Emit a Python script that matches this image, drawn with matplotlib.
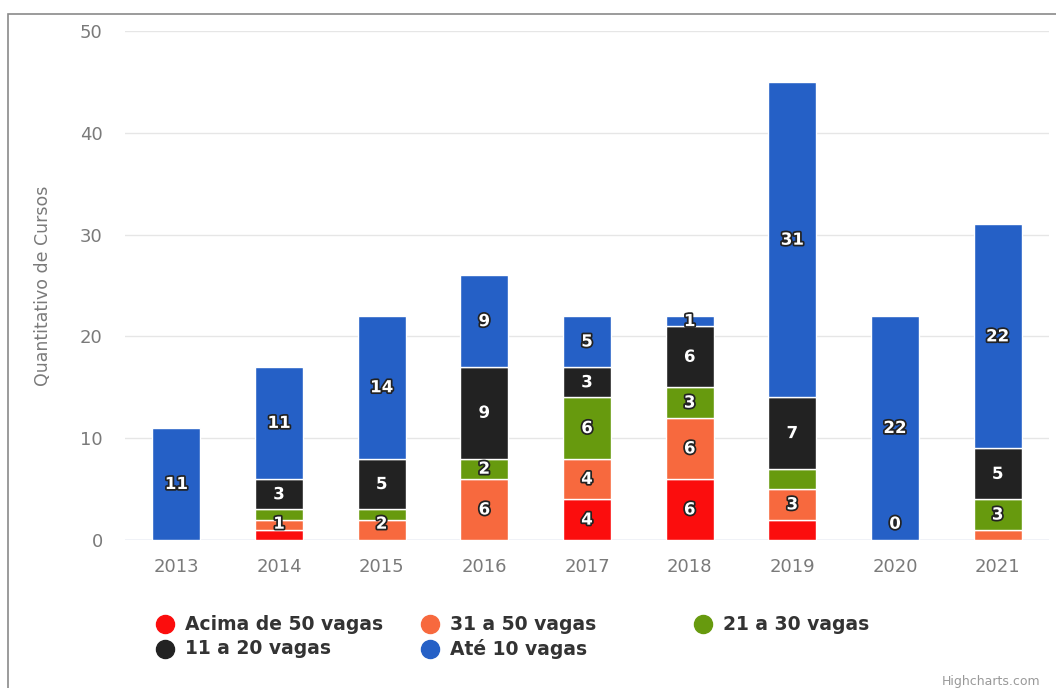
import matplotlib
matplotlib.use("Agg")
import matplotlib.pyplot as plt
import matplotlib.patheffects as pe
from matplotlib.patches import Rectangle
from matplotlib.lines import Line2D
import numpy as np

years = ["2013", "2014", "2015", "2016", "2017", "2018", "2019", "2020", "2021"]
series_names = ["Acima de 50 vagas", "31 a 50 vagas", "21 a 30 vagas", "11 a 20 vagas", "Até 10 vagas"]
acima_50 = [0, 1, 0, 0, 4, 6, 2, 0, 0]
de_31_50 = [0, 1, 2, 6, 4, 6, 3, 0, 1]
de_21_30 = [0, 1, 1, 2, 6, 3, 2, 0, 3]
de_11_20 = [0, 3, 5, 9, 3, 6, 7, 0, 5]
ate_10 = [11, 11, 14, 9, 5, 1, 31, 22, 22]
y_ticks = [0, 10, 20, 30, 40, 50]
y_label = "Quantitativo de Cursos"
credit = "Highcharts.com"

# which labels are shown (hidden ones overlapped in the original)
hidden = {(1, 0), (1, 2), (2, 2), (6, 0), (6, 2), (8, 1)}
shown_zero = {(7, 3)}

colors = ["#fb0d0d", "#f7693e", "#679a0e", "#222222", "#2560c6"]
series = [acima_50, de_31_50, de_21_30, de_11_20, ate_10]

W, H = 1056, 688
fig = plt.figure(figsize=(W / 100, H / 100), dpi=100)
fig.patch.set_facecolor("white")
fig.add_artist(Rectangle((8 / W, -0.2), 1.2, 1.2 - 14 / H, transform=fig.transFigure,
                         fill=False, edgecolor="#8a8a8a", linewidth=1.2))

ax = fig.add_axes([125 / W, 1 - 540 / H, (1049 - 125) / W, (540 - 31) / H])
x = np.arange(len(years))
bottom = np.zeros(len(years))
for si, (vals, col) in enumerate(zip(series, colors)):
    vals = np.array(vals, dtype=float)
    ax.bar(x, vals, width=0.47, bottom=bottom, color=col, edgecolor="white",
           linewidth=1.0, zorder=3)
    for i, v in enumerate(vals):
        show = (v > 0 and (i, si) not in hidden) or (i, si) in shown_zero
        if show:
            yc = bottom[i] + v / 2
            yc = max(yc, 1.6)
            ax.text(x[i], yc, f"{int(v)}", ha="center", va="center",
                    color="white", fontsize=12, fontweight="bold", zorder=5,
                    path_effects=[pe.withStroke(linewidth=2.5, foreground="#222222")])
    bottom += vals

ax.set_xlim(-0.5, len(years) - 0.5)
ax.set_ylim(0, 50)
ax.set_yticks(y_ticks)
ax.set_xticks(x)
ax.set_xticklabels(years)
ax.tick_params(axis="both", length=0, labelsize=13, colors="#7a7a7a")
ax.tick_params(axis="x", pad=13)
ax.tick_params(axis="y", pad=16)
ax.grid(axis="y", color="#e6e6e6", linewidth=1, zorder=0)
for s in ax.spines.values():
    s.set_visible(False)
ax.axhline(0, color="#ccd6eb", linewidth=1, zorder=2)
ax.set_ylabel(y_label, fontsize=12.5, color="#7a7a7a", labelpad=20)

# legend
legend_pos = [(165, 624), (430, 624), (703, 624), (165, 649), (430, 649)]
for (px, py), name, col in zip(legend_pos, series_names, colors):
    fig.add_artist(Line2D([px / W], [1 - py / H], marker="o", markersize=13,
                          color=col, linestyle="none", transform=fig.transFigure))
    fig.text((px + 20) / W, 1 - py / H, name, fontsize=13.5, fontweight="bold",
             color="#333333", va="center", ha="left")

fig.text(1040 / W, 1 - 681 / H, credit, fontsize=9, color="#999999", ha="right", va="center")

fig.savefig("out.png", dpi=100)
